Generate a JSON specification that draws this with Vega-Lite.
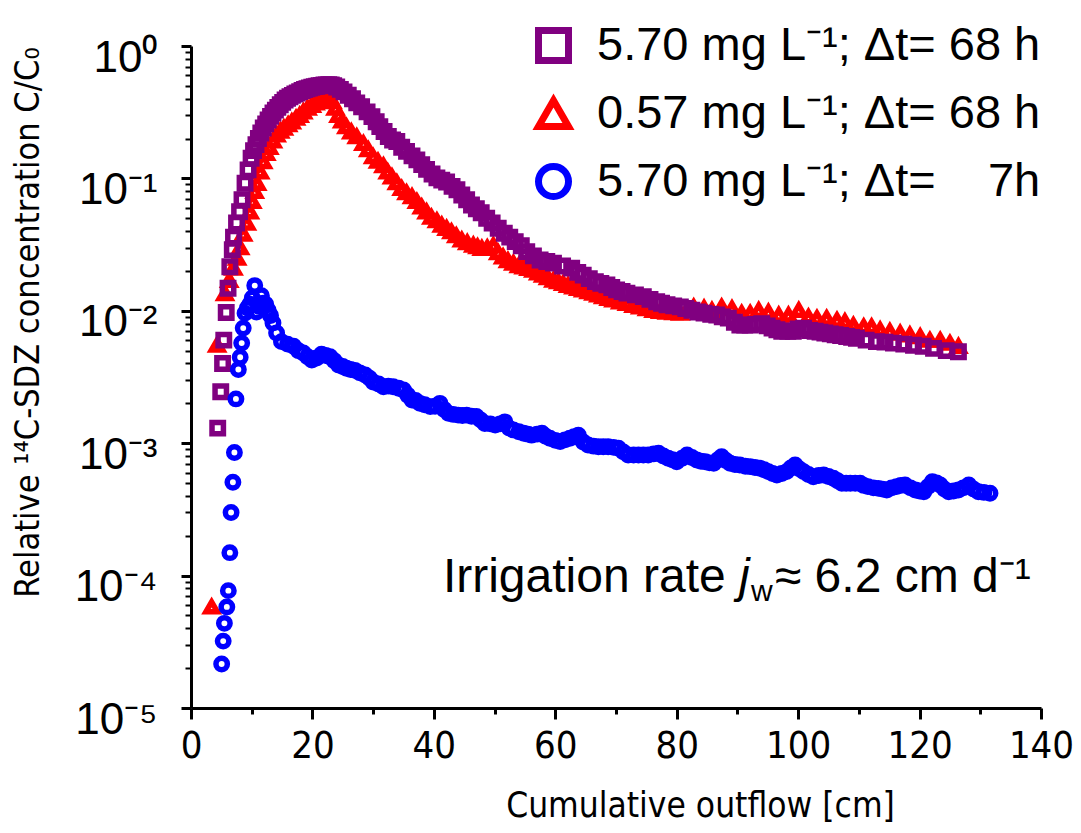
{
  "$schema": "https://vega.github.io/schema/vega-lite/v6.json",
  "width": 850,
  "height": 662,
  "autosize": {"type": "none"},
  "padding": {"left": 191, "top": 46, "right": 40, "bottom": 125},
  "background": "white",
  "config": {
    "view": {"stroke": null},
    "axis": {"grid": false, "domainColor": "black", "tickColor": "black", "labelColor": "black", "titleColor": "black", "titleFontWeight": "normal"}
  },
  "datasets": {
    "breakthrough": [
      {"series": "low_68h", "outflow": 3.4, "conc": 0.000058},
      {"series": "low_68h", "outflow": 4.3, "conc": 0.0055},
      {"series": "low_68h", "outflow": 5.6, "conc": 0.0135},
      {"series": "low_68h", "outflow": 6.3, "conc": 0.017},
      {"series": "low_68h", "outflow": 7.0, "conc": 0.021},
      {"series": "low_68h", "outflow": 7.6, "conc": 0.025},
      {"series": "low_68h", "outflow": 8.1, "conc": 0.030},
      {"series": "low_68h", "outflow": 8.6, "conc": 0.038},
      {"series": "low_68h", "outflow": 9.2, "conc": 0.046},
      {"series": "low_68h", "outflow": 9.7, "conc": 0.056},
      {"series": "low_68h", "outflow": 10.1, "conc": 0.067},
      {"series": "low_68h", "outflow": 10.5, "conc": 0.080},
      {"series": "low_68h", "outflow": 10.9, "conc": 0.092},
      {"series": "low_68h", "outflow": 11.4, "conc": 0.112},
      {"series": "low_68h", "outflow": 11.9, "conc": 0.134},
      {"series": "low_68h", "outflow": 12.4, "conc": 0.155},
      {"series": "low_68h", "outflow": 12.9, "conc": 0.172},
      {"series": "low_68h", "outflow": 13.5, "conc": 0.192},
      {"series": "low_68h", "outflow": 14.1, "conc": 0.213},
      {"series": "low_68h", "outflow": 14.7, "conc": 0.228},
      {"series": "low_68h", "outflow": 15.3, "conc": 0.240},
      {"series": "low_68h", "outflow": 16.0, "conc": 0.255},
      {"series": "low_68h", "outflow": 16.6, "conc": 0.268},
      {"series": "low_68h", "outflow": 17.3, "conc": 0.285},
      {"series": "low_68h", "outflow": 17.9, "conc": 0.300},
      {"series": "low_68h", "outflow": 18.5, "conc": 0.319},
      {"series": "low_68h", "outflow": 19.2, "conc": 0.340},
      {"series": "low_68h", "outflow": 19.9, "conc": 0.357},
      {"series": "low_68h", "outflow": 20.5, "conc": 0.372},
      {"series": "low_68h", "outflow": 21.1, "conc": 0.388},
      {"series": "low_68h", "outflow": 21.7, "conc": 0.400},
      {"series": "low_68h", "outflow": 22.3, "conc": 0.412},
      {"series": "low_68h", "outflow": 22.8, "conc": 0.415},
      {"series": "low_68h", "outflow": 23.3, "conc": 0.380},
      {"series": "low_68h", "outflow": 23.8, "conc": 0.340},
      {"series": "low_68h", "outflow": 24.3, "conc": 0.300},
      {"series": "low_68h", "outflow": 24.9, "conc": 0.272},
      {"series": "low_68h", "outflow": 25.6, "conc": 0.246},
      {"series": "low_68h", "outflow": 26.4, "conc": 0.225},
      {"series": "low_68h", "outflow": 27.3, "conc": 0.207},
      {"series": "low_68h", "outflow": 28.4, "conc": 0.184},
      {"series": "low_68h", "outflow": 29.2, "conc": 0.165},
      {"series": "low_68h", "outflow": 30.0, "conc": 0.146},
      {"series": "low_68h", "outflow": 30.8, "conc": 0.135},
      {"series": "low_68h", "outflow": 31.7, "conc": 0.125},
      {"series": "low_68h", "outflow": 32.4, "conc": 0.112},
      {"series": "low_68h", "outflow": 33.1, "conc": 0.103},
      {"series": "low_68h", "outflow": 33.9, "conc": 0.093},
      {"series": "low_68h", "outflow": 34.7, "conc": 0.084},
      {"series": "low_68h", "outflow": 35.5, "conc": 0.078},
      {"series": "low_68h", "outflow": 36.4, "conc": 0.073},
      {"series": "low_68h", "outflow": 37.2, "conc": 0.067},
      {"series": "low_68h", "outflow": 38.0, "conc": 0.061},
      {"series": "low_68h", "outflow": 38.8, "conc": 0.056},
      {"series": "low_68h", "outflow": 39.6, "conc": 0.051},
      {"series": "low_68h", "outflow": 40.5, "conc": 0.048},
      {"series": "low_68h", "outflow": 41.3, "conc": 0.0445},
      {"series": "low_68h", "outflow": 42.1, "conc": 0.042},
      {"series": "low_68h", "outflow": 42.9, "conc": 0.0396},
      {"series": "low_68h", "outflow": 43.7, "conc": 0.037},
      {"series": "low_68h", "outflow": 44.6, "conc": 0.0343},
      {"series": "low_68h", "outflow": 45.5, "conc": 0.0328},
      {"series": "low_68h", "outflow": 46.5, "conc": 0.0314},
      {"series": "low_68h", "outflow": 47.2, "conc": 0.0305},
      {"series": "low_68h", "outflow": 47.9, "conc": 0.0297},
      {"series": "low_68h", "outflow": 48.8, "conc": 0.0300},
      {"series": "low_68h", "outflow": 49.8, "conc": 0.0312},
      {"series": "low_68h", "outflow": 50.6, "conc": 0.0275},
      {"series": "low_68h", "outflow": 51.4, "conc": 0.0256},
      {"series": "low_68h", "outflow": 52.2, "conc": 0.024},
      {"series": "low_68h", "outflow": 53.1, "conc": 0.0229},
      {"series": "low_68h", "outflow": 54.0, "conc": 0.022},
      {"series": "low_68h", "outflow": 54.8, "conc": 0.0215},
      {"series": "low_68h", "outflow": 55.6, "conc": 0.0209},
      {"series": "low_68h", "outflow": 56.4, "conc": 0.0203},
      {"series": "low_68h", "outflow": 57.2, "conc": 0.0194},
      {"series": "low_68h", "outflow": 58.0, "conc": 0.0186},
      {"series": "low_68h", "outflow": 58.8, "conc": 0.0178},
      {"series": "low_68h", "outflow": 59.7, "conc": 0.0171},
      {"series": "low_68h", "outflow": 60.5, "conc": 0.0166},
      {"series": "low_68h", "outflow": 61.3, "conc": 0.0161},
      {"series": "low_68h", "outflow": 62.1, "conc": 0.0156},
      {"series": "low_68h", "outflow": 63.0, "conc": 0.0152},
      {"series": "low_68h", "outflow": 63.8, "conc": 0.0148},
      {"series": "low_68h", "outflow": 64.6, "conc": 0.0144},
      {"series": "low_68h", "outflow": 65.5, "conc": 0.0140},
      {"series": "low_68h", "outflow": 66.3, "conc": 0.0136},
      {"series": "low_68h", "outflow": 67.1, "conc": 0.0132},
      {"series": "low_68h", "outflow": 67.9, "conc": 0.0128},
      {"series": "low_68h", "outflow": 68.8, "conc": 0.0124},
      {"series": "low_68h", "outflow": 69.6, "conc": 0.0121},
      {"series": "low_68h", "outflow": 70.7, "conc": 0.0117},
      {"series": "low_68h", "outflow": 71.8, "conc": 0.0114},
      {"series": "low_68h", "outflow": 72.9, "conc": 0.0110},
      {"series": "low_68h", "outflow": 74.0, "conc": 0.0107},
      {"series": "low_68h", "outflow": 75.1, "conc": 0.0104},
      {"series": "low_68h", "outflow": 76.2, "conc": 0.0101},
      {"series": "low_68h", "outflow": 77.3, "conc": 0.0099},
      {"series": "low_68h", "outflow": 78.4, "conc": 0.0098},
      {"series": "low_68h", "outflow": 79.5, "conc": 0.0097},
      {"series": "low_68h", "outflow": 80.6, "conc": 0.0096},
      {"series": "low_68h", "outflow": 81.7, "conc": 0.0101},
      {"series": "low_68h", "outflow": 82.8, "conc": 0.0107},
      {"series": "low_68h", "outflow": 84.5, "conc": 0.0105},
      {"series": "low_68h", "outflow": 85.8, "conc": 0.0101},
      {"series": "low_68h", "outflow": 87.4, "conc": 0.0107},
      {"series": "low_68h", "outflow": 89.1, "conc": 0.0104},
      {"series": "low_68h", "outflow": 90.7, "conc": 0.0096},
      {"series": "low_68h", "outflow": 92.1, "conc": 0.0096},
      {"series": "low_68h", "outflow": 93.5, "conc": 0.0101},
      {"series": "low_68h", "outflow": 95.1, "conc": 0.0098},
      {"series": "low_68h", "outflow": 96.8, "conc": 0.0093},
      {"series": "low_68h", "outflow": 98.4, "conc": 0.0093},
      {"series": "low_68h", "outflow": 100.1, "conc": 0.0101},
      {"series": "low_68h", "outflow": 101.7, "conc": 0.0090},
      {"series": "low_68h", "outflow": 103.1, "conc": 0.0088},
      {"series": "low_68h", "outflow": 104.7, "conc": 0.0088},
      {"series": "low_68h", "outflow": 106.4, "conc": 0.0085},
      {"series": "low_68h", "outflow": 107.7, "conc": 0.0083},
      {"series": "low_68h", "outflow": 109.1, "conc": 0.0078},
      {"series": "low_68h", "outflow": 110.8, "conc": 0.0076},
      {"series": "low_68h", "outflow": 112.1, "conc": 0.0076},
      {"series": "low_68h", "outflow": 113.5, "conc": 0.0072},
      {"series": "low_68h", "outflow": 115.1, "conc": 0.0070},
      {"series": "low_68h", "outflow": 116.8, "conc": 0.0068},
      {"series": "low_68h", "outflow": 118.4, "conc": 0.0066},
      {"series": "low_68h", "outflow": 120.1, "conc": 0.0064},
      {"series": "low_68h", "outflow": 121.7, "conc": 0.0060},
      {"series": "low_68h", "outflow": 123.4, "conc": 0.0060},
      {"series": "low_68h", "outflow": 125.0, "conc": 0.0057},
      {"series": "low_68h", "outflow": 126.4, "conc": 0.0054},

      {"series": "high_68h", "outflow": 4.4, "conc": 0.0013},
      {"series": "high_68h", "outflow": 4.9, "conc": 0.00245},
      {"series": "high_68h", "outflow": 5.2, "conc": 0.0040},
      {"series": "high_68h", "outflow": 5.4, "conc": 0.0060},
      {"series": "high_68h", "outflow": 5.8, "conc": 0.0097},
      {"series": "high_68h", "outflow": 6.1, "conc": 0.0148},
      {"series": "high_68h", "outflow": 6.4, "conc": 0.0215},
      {"series": "high_68h", "outflow": 6.8, "conc": 0.029},
      {"series": "high_68h", "outflow": 7.0, "conc": 0.036},
      {"series": "high_68h", "outflow": 7.5, "conc": 0.046},
      {"series": "high_68h", "outflow": 8.0, "conc": 0.056},
      {"series": "high_68h", "outflow": 8.4, "conc": 0.069},
      {"series": "high_68h", "outflow": 8.9, "conc": 0.092},
      {"series": "high_68h", "outflow": 9.4, "conc": 0.116},
      {"series": "high_68h", "outflow": 9.9, "conc": 0.142},
      {"series": "high_68h", "outflow": 10.3, "conc": 0.162},
      {"series": "high_68h", "outflow": 10.7, "conc": 0.180},
      {"series": "high_68h", "outflow": 11.1, "conc": 0.200},
      {"series": "high_68h", "outflow": 11.5, "conc": 0.220},
      {"series": "high_68h", "outflow": 11.9, "conc": 0.240},
      {"series": "high_68h", "outflow": 12.3, "conc": 0.258},
      {"series": "high_68h", "outflow": 12.7, "conc": 0.276},
      {"series": "high_68h", "outflow": 13.1, "conc": 0.294},
      {"series": "high_68h", "outflow": 13.5, "conc": 0.312},
      {"series": "high_68h", "outflow": 13.9, "conc": 0.328},
      {"series": "high_68h", "outflow": 14.3, "conc": 0.344},
      {"series": "high_68h", "outflow": 14.7, "conc": 0.360},
      {"series": "high_68h", "outflow": 15.1, "conc": 0.375},
      {"series": "high_68h", "outflow": 15.5, "conc": 0.391},
      {"series": "high_68h", "outflow": 15.9, "conc": 0.403},
      {"series": "high_68h", "outflow": 16.3, "conc": 0.414},
      {"series": "high_68h", "outflow": 16.7, "conc": 0.424},
      {"series": "high_68h", "outflow": 17.1, "conc": 0.434},
      {"series": "high_68h", "outflow": 17.5, "conc": 0.442},
      {"series": "high_68h", "outflow": 17.9, "conc": 0.452},
      {"series": "high_68h", "outflow": 18.3, "conc": 0.461},
      {"series": "high_68h", "outflow": 18.7, "conc": 0.469},
      {"series": "high_68h", "outflow": 19.1, "conc": 0.476},
      {"series": "high_68h", "outflow": 19.5, "conc": 0.482},
      {"series": "high_68h", "outflow": 19.9, "conc": 0.488},
      {"series": "high_68h", "outflow": 20.3, "conc": 0.493},
      {"series": "high_68h", "outflow": 20.7, "conc": 0.497},
      {"series": "high_68h", "outflow": 21.1, "conc": 0.501},
      {"series": "high_68h", "outflow": 21.5, "conc": 0.504},
      {"series": "high_68h", "outflow": 21.9, "conc": 0.507},
      {"series": "high_68h", "outflow": 22.3, "conc": 0.509},
      {"series": "high_68h", "outflow": 22.7, "conc": 0.510},
      {"series": "high_68h", "outflow": 23.1, "conc": 0.508},
      {"series": "high_68h", "outflow": 23.5, "conc": 0.502},
      {"series": "high_68h", "outflow": 24.0, "conc": 0.490},
      {"series": "high_68h", "outflow": 24.6, "conc": 0.470},
      {"series": "high_68h", "outflow": 25.2, "conc": 0.450},
      {"series": "high_68h", "outflow": 25.9, "conc": 0.425},
      {"series": "high_68h", "outflow": 26.6, "conc": 0.400},
      {"series": "high_68h", "outflow": 27.3, "conc": 0.372},
      {"series": "high_68h", "outflow": 28.1, "conc": 0.348},
      {"series": "high_68h", "outflow": 29.0, "conc": 0.318},
      {"series": "high_68h", "outflow": 29.8, "conc": 0.293},
      {"series": "high_68h", "outflow": 30.5, "conc": 0.268},
      {"series": "high_68h", "outflow": 31.1, "conc": 0.246},
      {"series": "high_68h", "outflow": 31.8, "conc": 0.226},
      {"series": "high_68h", "outflow": 32.5, "conc": 0.207},
      {"series": "high_68h", "outflow": 33.2, "conc": 0.195},
      {"series": "high_68h", "outflow": 33.9, "conc": 0.190},
      {"series": "high_68h", "outflow": 34.7, "conc": 0.172},
      {"series": "high_68h", "outflow": 35.5, "conc": 0.160},
      {"series": "high_68h", "outflow": 36.4, "conc": 0.148},
      {"series": "high_68h", "outflow": 37.2, "conc": 0.138},
      {"series": "high_68h", "outflow": 38.0, "conc": 0.127},
      {"series": "high_68h", "outflow": 38.8, "conc": 0.117},
      {"series": "high_68h", "outflow": 39.7, "conc": 0.108},
      {"series": "high_68h", "outflow": 40.5, "conc": 0.101},
      {"series": "high_68h", "outflow": 41.3, "conc": 0.097},
      {"series": "high_68h", "outflow": 42.1, "conc": 0.094},
      {"series": "high_68h", "outflow": 43.0, "conc": 0.087},
      {"series": "high_68h", "outflow": 43.8, "conc": 0.082},
      {"series": "high_68h", "outflow": 44.6, "conc": 0.075},
      {"series": "high_68h", "outflow": 45.4, "conc": 0.069},
      {"series": "high_68h", "outflow": 46.2, "conc": 0.063},
      {"series": "high_68h", "outflow": 47.0, "conc": 0.059},
      {"series": "high_68h", "outflow": 47.8, "conc": 0.055},
      {"series": "high_68h", "outflow": 48.7, "conc": 0.050},
      {"series": "high_68h", "outflow": 49.6, "conc": 0.046},
      {"series": "high_68h", "outflow": 50.6, "conc": 0.042},
      {"series": "high_68h", "outflow": 51.6, "conc": 0.0385},
      {"series": "high_68h", "outflow": 52.5, "conc": 0.036},
      {"series": "high_68h", "outflow": 53.4, "conc": 0.0333},
      {"series": "high_68h", "outflow": 54.4, "conc": 0.031},
      {"series": "high_68h", "outflow": 55.3, "conc": 0.028},
      {"series": "high_68h", "outflow": 56.4, "conc": 0.026},
      {"series": "high_68h", "outflow": 57.5, "conc": 0.0242},
      {"series": "high_68h", "outflow": 58.6, "conc": 0.0236},
      {"series": "high_68h", "outflow": 59.7, "conc": 0.0229},
      {"series": "high_68h", "outflow": 61.2, "conc": 0.0218},
      {"series": "high_68h", "outflow": 62.7, "conc": 0.021},
      {"series": "high_68h", "outflow": 63.7, "conc": 0.0195},
      {"series": "high_68h", "outflow": 64.6, "conc": 0.0186},
      {"series": "high_68h", "outflow": 65.6, "conc": 0.0175},
      {"series": "high_68h", "outflow": 66.6, "conc": 0.0166},
      {"series": "high_68h", "outflow": 67.5, "conc": 0.0161},
      {"series": "high_68h", "outflow": 68.5, "conc": 0.0157},
      {"series": "high_68h", "outflow": 69.3, "conc": 0.0150},
      {"series": "high_68h", "outflow": 70.1, "conc": 0.0144},
      {"series": "high_68h", "outflow": 71.0, "conc": 0.0140},
      {"series": "high_68h", "outflow": 71.8, "conc": 0.0136},
      {"series": "high_68h", "outflow": 73.2, "conc": 0.0132},
      {"series": "high_68h", "outflow": 74.5, "conc": 0.0128},
      {"series": "high_68h", "outflow": 75.6, "conc": 0.0122},
      {"series": "high_68h", "outflow": 76.7, "conc": 0.0117},
      {"series": "high_68h", "outflow": 77.5, "conc": 0.0114},
      {"series": "high_68h", "outflow": 78.4, "conc": 0.0111},
      {"series": "high_68h", "outflow": 79.5, "conc": 0.0109},
      {"series": "high_68h", "outflow": 80.6, "conc": 0.0107},
      {"series": "high_68h", "outflow": 81.5, "conc": 0.0104},
      {"series": "high_68h", "outflow": 82.5, "conc": 0.0101},
      {"series": "high_68h", "outflow": 83.5, "conc": 0.0098},
      {"series": "high_68h", "outflow": 84.5, "conc": 0.0096},
      {"series": "high_68h", "outflow": 85.6, "conc": 0.0094},
      {"series": "high_68h", "outflow": 86.6, "conc": 0.0093},
      {"series": "high_68h", "outflow": 87.5, "conc": 0.0090},
      {"series": "high_68h", "outflow": 88.5, "conc": 0.0088},
      {"series": "high_68h", "outflow": 89.5, "conc": 0.0082},
      {"series": "high_68h", "outflow": 90.4, "conc": 0.0078},
      {"series": "high_68h", "outflow": 91.2, "conc": 0.0078},
      {"series": "high_68h", "outflow": 92.1, "conc": 0.0078},
      {"series": "high_68h", "outflow": 93.0, "conc": 0.0079},
      {"series": "high_68h", "outflow": 94.0, "conc": 0.0080},
      {"series": "high_68h", "outflow": 94.9, "conc": 0.0077},
      {"series": "high_68h", "outflow": 95.7, "conc": 0.0074},
      {"series": "high_68h", "outflow": 96.5, "conc": 0.0072},
      {"series": "high_68h", "outflow": 97.3, "conc": 0.0070},
      {"series": "high_68h", "outflow": 98.3, "conc": 0.0070},
      {"series": "high_68h", "outflow": 99.2, "conc": 0.0070},
      {"series": "high_68h", "outflow": 100.0, "conc": 0.0073},
      {"series": "high_68h", "outflow": 100.9, "conc": 0.0074},
      {"series": "high_68h", "outflow": 101.9, "conc": 0.0071},
      {"series": "high_68h", "outflow": 102.8, "conc": 0.0070},
      {"series": "high_68h", "outflow": 103.6, "conc": 0.0069},
      {"series": "high_68h", "outflow": 104.4, "conc": 0.0068},
      {"series": "high_68h", "outflow": 105.3, "conc": 0.0067},
      {"series": "high_68h", "outflow": 106.1, "conc": 0.0066},
      {"series": "high_68h", "outflow": 107.0, "conc": 0.0065},
      {"series": "high_68h", "outflow": 108.0, "conc": 0.0064},
      {"series": "high_68h", "outflow": 108.8, "conc": 0.0063},
      {"series": "high_68h", "outflow": 109.6, "conc": 0.0062},
      {"series": "high_68h", "outflow": 111.2, "conc": 0.0060},
      {"series": "high_68h", "outflow": 112.9, "conc": 0.00585},
      {"series": "high_68h", "outflow": 114.3, "conc": 0.0058},
      {"series": "high_68h", "outflow": 115.7, "conc": 0.0057},
      {"series": "high_68h", "outflow": 117.4, "conc": 0.0056},
      {"series": "high_68h", "outflow": 119.0, "conc": 0.0055},
      {"series": "high_68h", "outflow": 120.6, "conc": 0.0054},
      {"series": "high_68h", "outflow": 122.3, "conc": 0.0052},
      {"series": "high_68h", "outflow": 124.4, "conc": 0.0050},
      {"series": "high_68h", "outflow": 126.4, "conc": 0.0049},

      {"series": "high_7h", "outflow": 5.05, "conc": 0.0000215},
      {"series": "high_7h", "outflow": 5.3, "conc": 0.000032},
      {"series": "high_7h", "outflow": 5.5, "conc": 0.0000436},
      {"series": "high_7h", "outflow": 5.9, "conc": 0.000058},
      {"series": "high_7h", "outflow": 6.15, "conc": 0.000077},
      {"series": "high_7h", "outflow": 6.4, "conc": 0.000149},
      {"series": "high_7h", "outflow": 6.6, "conc": 0.0003},
      {"series": "high_7h", "outflow": 6.9, "conc": 0.000507},
      {"series": "high_7h", "outflow": 7.15, "conc": 0.00085},
      {"series": "high_7h", "outflow": 7.4, "conc": 0.00216},
      {"series": "high_7h", "outflow": 7.8, "conc": 0.0036},
      {"series": "high_7h", "outflow": 8.1, "conc": 0.00446},
      {"series": "high_7h", "outflow": 8.35, "conc": 0.0057},
      {"series": "high_7h", "outflow": 8.6, "conc": 0.0074},
      {"series": "high_7h", "outflow": 8.9, "conc": 0.0096},
      {"series": "high_7h", "outflow": 9.3, "conc": 0.0105},
      {"series": "high_7h", "outflow": 9.7, "conc": 0.0112},
      {"series": "high_7h", "outflow": 10.1, "conc": 0.0125},
      {"series": "high_7h", "outflow": 10.5, "conc": 0.0155},
      {"series": "high_7h", "outflow": 10.8, "conc": 0.0098},
      {"series": "high_7h", "outflow": 11.2, "conc": 0.0108},
      {"series": "high_7h", "outflow": 11.6, "conc": 0.0130},
      {"series": "high_7h", "outflow": 11.9, "conc": 0.0114},
      {"series": "high_7h", "outflow": 12.3, "conc": 0.0112},
      {"series": "high_7h", "outflow": 12.7, "conc": 0.0101},
      {"series": "high_7h", "outflow": 13.1, "conc": 0.0092},
      {"series": "high_7h", "outflow": 13.5, "conc": 0.0081},
      {"series": "high_7h", "outflow": 14.1, "conc": 0.0068},
      {"series": "high_7h", "outflow": 14.9, "conc": 0.00585},
      {"series": "high_7h", "outflow": 15.9, "conc": 0.0056},
      {"series": "high_7h", "outflow": 16.9, "conc": 0.0054},
      {"series": "high_7h", "outflow": 17.7, "conc": 0.0050},
      {"series": "high_7h", "outflow": 18.5, "conc": 0.0048},
      {"series": "high_7h", "outflow": 19.2, "conc": 0.0045},
      {"series": "high_7h", "outflow": 19.9, "conc": 0.00425},
      {"series": "high_7h", "outflow": 20.7, "conc": 0.0044},
      {"series": "high_7h", "outflow": 21.5, "conc": 0.0047},
      {"series": "high_7h", "outflow": 22.2, "conc": 0.0046},
      {"series": "high_7h", "outflow": 22.9, "conc": 0.0045},
      {"series": "high_7h", "outflow": 23.6, "conc": 0.0042},
      {"series": "high_7h", "outflow": 24.3, "conc": 0.0039},
      {"series": "high_7h", "outflow": 25.0, "conc": 0.0038},
      {"series": "high_7h", "outflow": 25.6, "conc": 0.00368},
      {"series": "high_7h", "outflow": 26.3, "conc": 0.0036},
      {"series": "high_7h", "outflow": 27.0, "conc": 0.00355},
      {"series": "high_7h", "outflow": 27.8, "conc": 0.0034},
      {"series": "high_7h", "outflow": 28.7, "conc": 0.00327},
      {"series": "high_7h", "outflow": 29.4, "conc": 0.0031},
      {"series": "high_7h", "outflow": 30.0, "conc": 0.0029},
      {"series": "high_7h", "outflow": 30.9, "conc": 0.0028},
      {"series": "high_7h", "outflow": 31.7, "conc": 0.00267},
      {"series": "high_7h", "outflow": 32.5, "conc": 0.0027},
      {"series": "high_7h", "outflow": 33.3, "conc": 0.00267},
      {"series": "high_7h", "outflow": 34.2, "conc": 0.0026},
      {"series": "high_7h", "outflow": 35.0, "conc": 0.00252},
      {"series": "high_7h", "outflow": 35.7, "conc": 0.0023},
      {"series": "high_7h", "outflow": 36.4, "conc": 0.00212},
      {"series": "high_7h", "outflow": 37.0, "conc": 0.0021},
      {"series": "high_7h", "outflow": 37.7, "conc": 0.0020},
      {"series": "high_7h", "outflow": 38.5, "conc": 0.00195},
      {"series": "high_7h", "outflow": 39.4, "conc": 0.00189},
      {"series": "high_7h", "outflow": 40.2, "conc": 0.0019},
      {"series": "high_7h", "outflow": 41.0, "conc": 0.0020},
      {"series": "high_7h", "outflow": 41.7, "conc": 0.0018},
      {"series": "high_7h", "outflow": 42.4, "conc": 0.00168},
      {"series": "high_7h", "outflow": 43.2, "conc": 0.00165},
      {"series": "high_7h", "outflow": 44.0, "conc": 0.00163},
      {"series": "high_7h", "outflow": 44.7, "conc": 0.00162},
      {"series": "high_7h", "outflow": 45.4, "conc": 0.00163},
      {"series": "high_7h", "outflow": 46.2, "conc": 0.0016},
      {"series": "high_7h", "outflow": 47.0, "conc": 0.00159},
      {"series": "high_7h", "outflow": 47.7, "conc": 0.0015},
      {"series": "high_7h", "outflow": 48.4, "conc": 0.00141},
      {"series": "high_7h", "outflow": 49.3, "conc": 0.0014},
      {"series": "high_7h", "outflow": 50.1, "conc": 0.00137},
      {"series": "high_7h", "outflow": 50.9, "conc": 0.0014},
      {"series": "high_7h", "outflow": 51.7, "conc": 0.00145},
      {"series": "high_7h", "outflow": 52.4, "conc": 0.0013},
      {"series": "high_7h", "outflow": 53.1, "conc": 0.00126},
      {"series": "high_7h", "outflow": 54.0, "conc": 0.00122},
      {"series": "high_7h", "outflow": 54.8, "conc": 0.00119},
      {"series": "high_7h", "outflow": 55.5, "conc": 0.00117},
      {"series": "high_7h", "outflow": 56.1, "conc": 0.00115},
      {"series": "high_7h", "outflow": 57.0, "conc": 0.00117},
      {"series": "high_7h", "outflow": 57.8, "conc": 0.00119},
      {"series": "high_7h", "outflow": 58.4, "conc": 0.00113},
      {"series": "high_7h", "outflow": 59.1, "conc": 0.00109},
      {"series": "high_7h", "outflow": 60.0, "conc": 0.00105},
      {"series": "high_7h", "outflow": 60.8, "conc": 0.00103},
      {"series": "high_7h", "outflow": 61.6, "conc": 0.00106},
      {"series": "high_7h", "outflow": 62.4, "conc": 0.00109},
      {"series": "high_7h", "outflow": 63.1, "conc": 0.00112},
      {"series": "high_7h", "outflow": 63.8, "conc": 0.00115},
      {"series": "high_7h", "outflow": 64.6, "conc": 0.00102},
      {"series": "high_7h", "outflow": 65.4, "conc": 0.00097},
      {"series": "high_7h", "outflow": 66.3, "conc": 0.00095},
      {"series": "high_7h", "outflow": 67.1, "conc": 0.00094},
      {"series": "high_7h", "outflow": 67.9, "conc": 0.00094},
      {"series": "high_7h", "outflow": 68.7, "conc": 0.00094},
      {"series": "high_7h", "outflow": 69.6, "conc": 0.00093},
      {"series": "high_7h", "outflow": 70.4, "conc": 0.000915},
      {"series": "high_7h", "outflow": 71.2, "conc": 0.00086},
      {"series": "high_7h", "outflow": 72.0, "conc": 0.000815},
      {"series": "high_7h", "outflow": 72.9, "conc": 0.000815},
      {"series": "high_7h", "outflow": 73.7, "conc": 0.000815},
      {"series": "high_7h", "outflow": 74.5, "conc": 0.000815},
      {"series": "high_7h", "outflow": 75.3, "conc": 0.000815},
      {"series": "high_7h", "outflow": 76.2, "conc": 0.00083},
      {"series": "high_7h", "outflow": 77.0, "conc": 0.00084},
      {"series": "high_7h", "outflow": 77.8, "conc": 0.0008},
      {"series": "high_7h", "outflow": 78.6, "conc": 0.00077},
      {"series": "high_7h", "outflow": 79.3, "conc": 0.00075},
      {"series": "high_7h", "outflow": 80.0, "conc": 0.000725},
      {"series": "high_7h", "outflow": 80.9, "conc": 0.00077},
      {"series": "high_7h", "outflow": 81.7, "conc": 0.000815},
      {"series": "high_7h", "outflow": 82.5, "conc": 0.00078},
      {"series": "high_7h", "outflow": 83.3, "conc": 0.000747},
      {"series": "high_7h", "outflow": 84.0, "conc": 0.00073},
      {"series": "high_7h", "outflow": 84.7, "conc": 0.000725},
      {"series": "high_7h", "outflow": 85.4, "conc": 0.00071},
      {"series": "high_7h", "outflow": 86.1, "conc": 0.000705},
      {"series": "high_7h", "outflow": 86.8, "conc": 0.00075},
      {"series": "high_7h", "outflow": 87.4, "conc": 0.00079},
      {"series": "high_7h", "outflow": 88.1, "conc": 0.00074},
      {"series": "high_7h", "outflow": 88.8, "conc": 0.000705},
      {"series": "high_7h", "outflow": 89.6, "conc": 0.00069},
      {"series": "high_7h", "outflow": 90.4, "conc": 0.000684},
      {"series": "high_7h", "outflow": 91.3, "conc": 0.00067},
      {"series": "high_7h", "outflow": 92.1, "conc": 0.000665},
      {"series": "high_7h", "outflow": 92.9, "conc": 0.000655},
      {"series": "high_7h", "outflow": 93.7, "conc": 0.000646},
      {"series": "high_7h", "outflow": 94.4, "conc": 0.00063},
      {"series": "high_7h", "outflow": 95.1, "conc": 0.00061},
      {"series": "high_7h", "outflow": 95.8, "conc": 0.00059},
      {"series": "high_7h", "outflow": 96.5, "conc": 0.000575},
      {"series": "high_7h", "outflow": 97.3, "conc": 0.00059},
      {"series": "high_7h", "outflow": 98.1, "conc": 0.00061},
      {"series": "high_7h", "outflow": 98.8, "conc": 0.00065},
      {"series": "high_7h", "outflow": 99.5, "conc": 0.000684},
      {"series": "high_7h", "outflow": 100.2, "conc": 0.00064},
      {"series": "high_7h", "outflow": 100.9, "conc": 0.00061},
      {"series": "high_7h", "outflow": 101.7, "conc": 0.00058},
      {"series": "high_7h", "outflow": 102.5, "conc": 0.000558},
      {"series": "high_7h", "outflow": 103.4, "conc": 0.00057},
      {"series": "high_7h", "outflow": 104.2, "conc": 0.000575},
      {"series": "high_7h", "outflow": 105.0, "conc": 0.00056},
      {"series": "high_7h", "outflow": 105.8, "conc": 0.000543},
      {"series": "high_7h", "outflow": 106.5, "conc": 0.00052},
      {"series": "high_7h", "outflow": 107.2, "conc": 0.000498},
      {"series": "high_7h", "outflow": 107.9, "conc": 0.000498},
      {"series": "high_7h", "outflow": 108.6, "conc": 0.000498},
      {"series": "high_7h", "outflow": 109.4, "conc": 0.000498},
      {"series": "high_7h", "outflow": 110.2, "conc": 0.000498},
      {"series": "high_7h", "outflow": 110.8, "conc": 0.00048},
      {"series": "high_7h", "outflow": 111.5, "conc": 0.00047},
      {"series": "high_7h", "outflow": 112.4, "conc": 0.00046},
      {"series": "high_7h", "outflow": 113.2, "conc": 0.000456},
      {"series": "high_7h", "outflow": 113.9, "conc": 0.00045},
      {"series": "high_7h", "outflow": 114.6, "conc": 0.000443},
      {"series": "high_7h", "outflow": 115.4, "conc": 0.00046},
      {"series": "high_7h", "outflow": 116.2, "conc": 0.00047},
      {"series": "high_7h", "outflow": 116.9, "conc": 0.00048},
      {"series": "high_7h", "outflow": 117.6, "conc": 0.000483},
      {"series": "high_7h", "outflow": 118.5, "conc": 0.00046},
      {"series": "high_7h", "outflow": 119.3, "conc": 0.000443},
      {"series": "high_7h", "outflow": 120.0, "conc": 0.000435},
      {"series": "high_7h", "outflow": 120.7, "conc": 0.00043},
      {"series": "high_7h", "outflow": 121.4, "conc": 0.00047},
      {"series": "high_7h", "outflow": 122.1, "conc": 0.000512},
      {"series": "high_7h", "outflow": 122.8, "conc": 0.0005},
      {"series": "high_7h", "outflow": 123.4, "conc": 0.000483},
      {"series": "high_7h", "outflow": 124.1, "conc": 0.00045},
      {"series": "high_7h", "outflow": 124.8, "conc": 0.00043},
      {"series": "high_7h", "outflow": 125.6, "conc": 0.000435},
      {"series": "high_7h", "outflow": 126.4, "conc": 0.000443},
      {"series": "high_7h", "outflow": 127.2, "conc": 0.00046},
      {"series": "high_7h", "outflow": 128.1, "conc": 0.000483},
      {"series": "high_7h", "outflow": 128.9, "conc": 0.00045},
      {"series": "high_7h", "outflow": 129.7, "conc": 0.00043},
      {"series": "high_7h", "outflow": 130.6, "conc": 0.000425},
      {"series": "high_7h", "outflow": 131.6, "conc": 0.000419}
    ],
    "note": [
      {"outflow": 138.3, "conc": 0.0001}
    ]
  },
  "layer": [
    {
      "data": {"name": "breakthrough"},
      "mark": {"type": "point", "filled": false, "strokeWidth": 5.5, "size": 130, "opacity": 1},
      "encoding": {
        "x": {
          "field": "outflow", "type": "quantitative",
          "scale": {"domain": [0, 140], "nice": false, "zero": false},
          "axis": {
            "values": [0, 10, 20, 30, 40, 50, 60, 70, 80, 90, 100, 110, 120, 130, 140],
            "labelExpr": "datum.value % 20 == 0 ? datum.label : ''",
            "tickSize": 11,
            "tickDash": {"condition": {"test": "datum.value % 20 == 0", "value": []}, "value": [6, 40]},
            "tickWidth": 3, "domainWidth": 3,
            "labelFont": "DejaVu Sans Condensed, Liberation Sans, sans-serif", "labelFontSize": 38, "labelPadding": 8,
            "labelFlush": false, "labelOverlap": false,
            "title": "Cumulative outflow [cm]",
            "titleFont": "DejaVu Sans Condensed, Liberation Sans, sans-serif", "titleFontSize": 35,
            "titleX": 509, "titleY": 97, "titleAlign": "center", "titleBaseline": "middle"
          }
        },
        "y": {
          "field": "conc", "type": "quantitative",
          "scale": {"type": "log", "domain": [0.00001, 1], "nice": false},
          "axis": {
            "values": [0.00001, 0.00002, 0.00003, 0.00004, 0.00005, 0.00006, 0.00007, 0.00008, 0.00009,
                       0.0001, 0.0002, 0.0003, 0.0004, 0.0005, 0.0006, 0.0007, 0.0008, 0.0009,
                       0.001, 0.002, 0.003, 0.004, 0.005, 0.006, 0.007, 0.008, 0.009,
                       0.01, 0.02, 0.03, 0.04, 0.05, 0.06, 0.07, 0.08, 0.09,
                       0.1, 0.2, 0.3, 0.4, 0.5, 0.6, 0.7, 0.8, 0.9, 1],
            "labelExpr": "abs(log(datum.value)/LN10 - round(log(datum.value)/LN10)) < 0.000001 ? ['10⁻⁵','10⁻⁴','10⁻³','10⁻²','10⁻¹','10⁰'][round(log(datum.value)/LN10)+5] : ''",
            "tickSize": 10,
            "tickDash": {"condition": {"test": "abs(log(datum.value)/LN10 - round(log(datum.value)/LN10)) < 0.000001", "value": []}, "value": [6, 40]},
            "tickWidth": {"condition": {"test": "abs(log(datum.value)/LN10 - round(log(datum.value)/LN10)) < 0.000001", "value": 3}, "value": 2},
            "domainWidth": 3,
            "labelFont": "Liberation Sans", "labelFontSize": 44, "labelPadding": 24, "labelOffset": 12,
            "labelFlush": false, "labelOverlap": false,
            "title": "Relative ¹⁴C-SDZ concentration C/C₀",
            "titleFont": "DejaVu Sans Condensed, Liberation Sans, sans-serif", "titleFontSize": 34,
            "titleX": -163, "titleY": 276, "titleAngle": -90, "titleAlign": "center", "titleBaseline": "middle"
          }
        },
        "color": {
          "field": "series", "type": "nominal",
          "scale": {"domain": ["high_68h", "low_68h", "high_7h"], "range": ["#800080", "#FF0000", "#0000FF"]},
          "legend": {
            "orient": "none", "legendX": 339, "legendY": -24,
            "title": null,
            "labelExpr": "{'high_68h': '5.70 mg L⁻¹; Δt= 68 h', 'low_68h': '0.57 mg L⁻¹; Δt= 68 h', 'high_7h': '5.70 mg L⁻¹; Δt=\u00a0\u00a0\u00a0\u00a07h'}[datum.value]",
            "labelFont": "Liberation Sans", "labelFontSize": 47, "labelColor": "black",
            "labelOffset": 20, "labelLimit": 700,
            "symbolSize": 900, "symbolStrokeWidth": 7, "rowPadding": 11,
            "padding": 0
          }
        },
        "shape": {
          "field": "series", "type": "nominal",
          "scale": {"domain": ["high_68h", "low_68h", "high_7h"], "range": ["square", "triangle-up", "circle"]}
        }
      }
    },
    {
      "data": {"name": "note"},
      "layer": [
        {"mark": {"type": "text", "text": "≈ 6.2 cm d⁻¹", "font": "Liberation Sans", "fontSize": 48, "align": "right", "baseline": "alphabetic", "dy": 16, "color": "black"}},
        {"mark": {"type": "text", "text": "w", "font": "Liberation Sans", "fontSize": 30, "align": "right", "baseline": "alphabetic", "dx": -258, "dy": 25, "color": "black"}},
        {"mark": {"type": "text", "text": "j", "font": "Liberation Sans", "fontStyle": "italic", "fontSize": 48, "align": "right", "baseline": "alphabetic", "dx": -281, "dy": 16, "color": "black"}},
        {"mark": {"type": "text", "text": "Irrigation rate", "font": "Liberation Sans", "fontSize": 48, "align": "right", "baseline": "alphabetic", "dx": -305, "dy": 16, "color": "black"}}
      ],
      "encoding": {
        "x": {"field": "outflow", "type": "quantitative", "axis": null},
        "y": {"field": "conc", "type": "quantitative", "axis": null}
      }
    }
  ],
  "resolve": {"axis": {"x": "independent", "y": "independent"}}
}
